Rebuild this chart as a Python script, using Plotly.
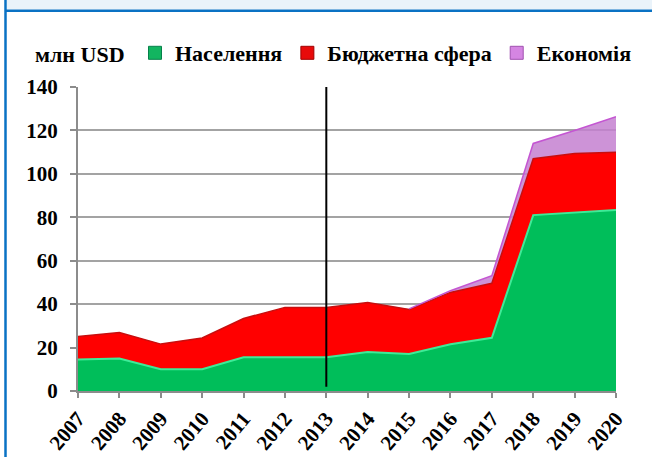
import numpy as np
import plotly.graph_objects as go

# Funding by recipient group, million USD
years = [2007, 2008, 2009, 2010, 2011, 2012, 2013, 2014, 2015, 2016, 2017, 2018, 2019, 2020]
population = [14.5, 15.0, 10.0, 10.0, 15.5, 15.5, 15.5, 18.0, 17.0, 21.5, 24.5, 81.0, 82.0, 83.3]
budget_sector = [10.6, 11.9, 11.6, 14.4, 17.9, 23.0, 23.0, 22.7, 20.5, 23.9, 25.1, 26.0, 27.4, 26.7]
economy = [0, 0, 0, 0, 0, 0, 0, 0, 0.3, 0.8, 3.5, 7.0, 10.6, 16.3]

series_names = ["Населення", "Бюджетна сфера", "Економія"]
y_ticks = [0, 20, 40, 60, 80, 100, 120, 140]
unit_label = "млн USD"
marker_year = 2013

W, H = 652, 457
ML, MR, MT, MB = 78, 36, 87, 66
PW, PH = W - ML - MR, H - MT - MB

FONT = "Liberation Serif"

def px_x(p):
    return (p - ML) / PW

def px_y(p):
    return (H - MB - p) / PH

fig = go.Figure()

fill_cols = ["#00BE5A", "#FF0000", "rgba(196,128,208,0.85)"]
edge_cols = ["#3EEB98", "#C80E0E", "#C455D2"]
edge_w = [2, 1.5, 0]
for name, vals, fc, ec, lw in zip(series_names, [population, budget_sector, economy],
                                  fill_cols, edge_cols, edge_w):
    fig.add_trace(go.Scatter(
        x=years, y=vals, name=name, stackgroup="one", mode="lines",
        line=dict(color=ec, width=lw), fillcolor=fc, showlegend=False,
        hoverinfo="x+y"))

# top edge of the economy layer where it is present
total = np.array(population) + np.array(budget_sector) + np.array(economy)
start = years.index(2015)
fig.add_trace(go.Scatter(
    x=years[start:], y=total[start:], mode="lines",
    line=dict(color="#C455D2", width=1.5), showlegend=False, hoverinfo="skip"))

# legend swatches
sw_fill = ["#12B560", "#E80A0A", "#D585E2"]
sw_edge = ["#06804A", "#A00000", "#A050B0"]
for name, fc, ec in zip(series_names, sw_fill, sw_edge):
    fig.add_trace(go.Scatter(
        x=[None], y=[None], mode="markers", name=name,
        marker=dict(symbol="square", size=13, color=fc, line=dict(color=ec, width=1))))

shapes = [
    # vertical marker line
    dict(type="line", xref="x", yref="y", x0=marker_year, x1=marker_year, y0=2, y1=140,
         line=dict(color="black", width=2)),
    # page frame: light band, blue rule, left border
    dict(type="rect", xref="paper", yref="paper", x0=px_x(7), x1=px_x(W + 2),
         y0=px_y(9.5), y1=px_y(-2), fillcolor="#EAF3FA", line=dict(width=0), layer="below"),
    dict(type="line", xref="paper", yref="paper", x0=px_x(5), x1=px_x(W + 2),
         y0=px_y(10.8), y1=px_y(10.8), line=dict(color="#0A72C4", width=2.5)),
    dict(type="line", xref="paper", yref="paper", x0=px_x(5.5), x1=px_x(5.5),
         y0=px_y(-2), y1=px_y(H + 2), line=dict(color="#0A72C4", width=2.5)),
]

fig.update_layout(
    width=W, height=H,
    margin=dict(l=ML, r=MR, t=MT, b=MB, autoexpand=False),
    paper_bgcolor="white", plot_bgcolor="white",
    font=dict(family=FONT, color="black"),
    shapes=shapes,
    showlegend=True,
    legend=dict(orientation="h", traceorder="normal", x=px_x(135), y=px_y(53),
                xanchor="left", yanchor="middle",
                font=dict(family=FONT, size=22, weight=700, color="black"),
                bgcolor="rgba(0,0,0,0)", itemclick=False, itemdoubleclick=False),
    annotations=[dict(text=unit_label, xref="paper", yref="paper", x=px_x(33), y=px_y(54),
                      xanchor="left", yanchor="middle", showarrow=False,
                      font=dict(family=FONT, size=22, weight=700, color="black"))],
    xaxis=dict(range=[years[0], years[-1]], tickmode="array", tickvals=years,
               ticktext=[str(y) for y in years], tickangle=-50,
               tickfont=dict(family=FONT, size=21, weight=700, color="black"),
               showgrid=False, zeroline=False, showline=True, linecolor="#8C8C8C",
               linewidth=2, ticks="outside", ticklen=5, tickcolor="#8C8C8C", tickwidth=2),
    yaxis=dict(range=[0, 140], tickmode="array", tickvals=y_ticks,
               tickfont=dict(family=FONT, size=21, weight=700, color="black"),
               showgrid=True, gridcolor="#A3A3A3", gridwidth=2, zeroline=False,
               showline=True, linecolor="#8C8C8C", linewidth=2,
               ticks="outside", ticklen=6, tickcolor="#8C8C8C", tickwidth=2,
               ticklabelstandoff=8),
)

fig.write_html("out.html")
